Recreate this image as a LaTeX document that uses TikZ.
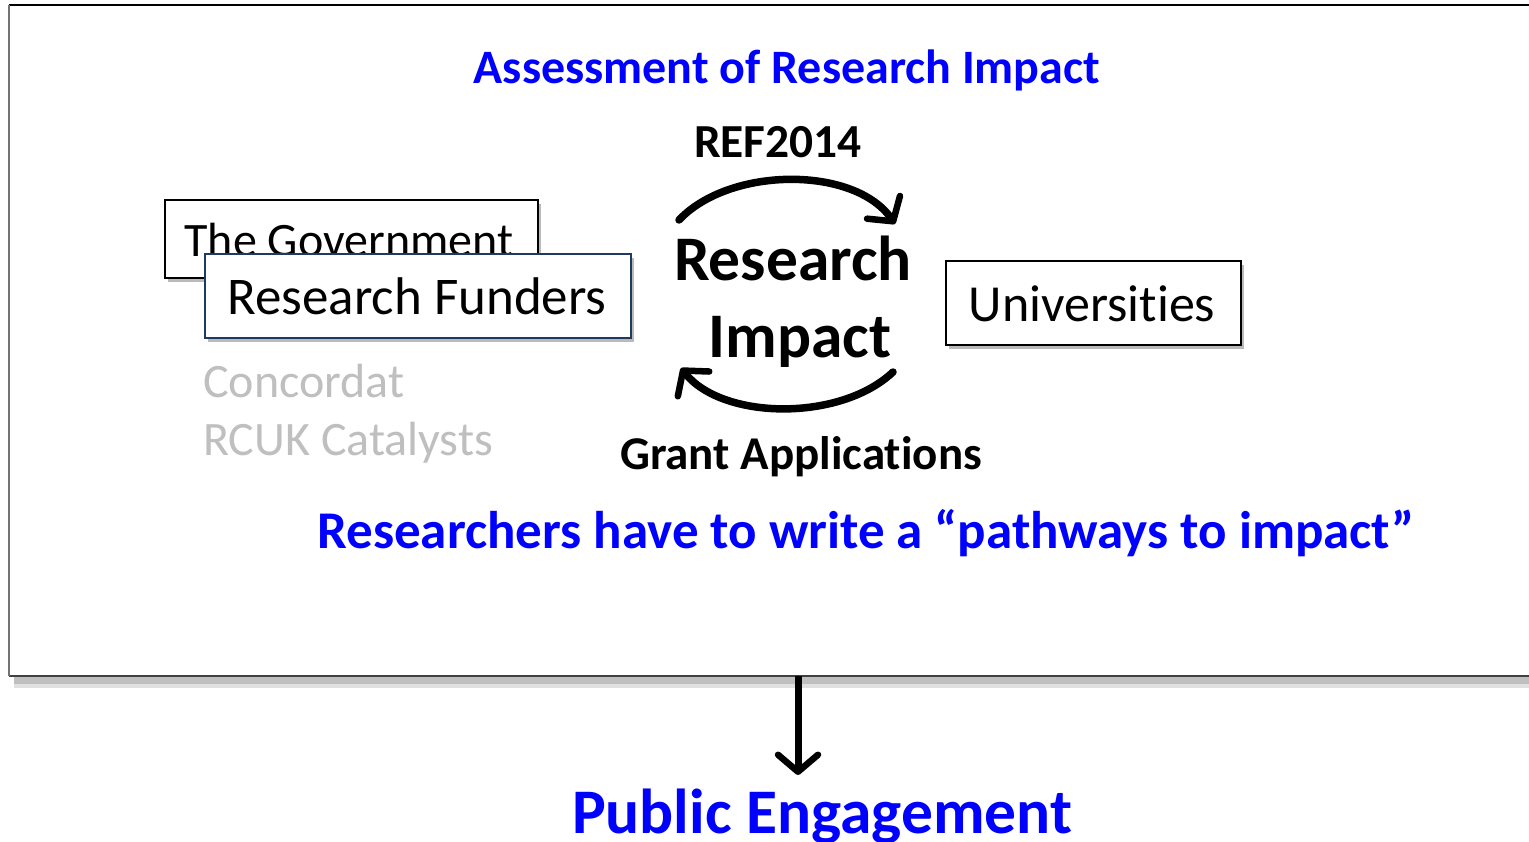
\documentclass[tikz,border=0pt]{standalone}
\usepackage{fontspec}
\setmainfont{Carlito}[Ligatures=CommonOff]
\usetikzlibrary{arrows.meta,shadows}
\definecolor{pblue}{RGB}{0,0,255}
\definecolor{lgrey}{RGB}{191,191,191}
\definecolor{navy}{RGB}{31,56,100}
\tikzset{
  lbl/.style={inner sep=0pt, anchor=base},
  boxed/.style={draw=black, line width=1.5pt, fill=white, inner sep=0pt,
    drop shadow={shadow xshift=3pt, shadow yshift=-4pt, opacity=0.45, fill=black!60}},
  arctip/.style={-{Straight Barb[length=17pt,width=40pt,line width=6.5pt, round]}},
  arc/.style={line width=7.5pt, line cap=round, arctip}
}
\begin{document}
\begin{tikzpicture}[x=1pt,y=-1pt]
\useasboundingbox (0,0) rectangle (1529,842);
\begin{scope}
\clip (0,0) rectangle (1529,842);
% main frame
\fill[black!25] (14,676) rectangle (1560,684);
\fill[black!12] (14,684) rectangle (1560,688);
\fill[white] (9,5) rectangle (1560,676);
\draw[black, line width=1.5pt] (9,5) -- (1560,5);
\draw[black!75, line width=1.5pt] (9,676) -- (1560,676);
\draw[black!55, line width=2pt] (9,5) -- (9,676);

% title texts
\node[lbl, text=pblue, font=\bfseries\fontsize{48}{48}\selectfont] (title) at (787,84) {Assessment of Research Impact};
\node[lbl, font=\bfseries\fontsize{47.4}{48}\selectfont] (ref) at (778,158) {REF2014};
\node[lbl, font=\bfseries\fontsize{63.5}{64}\selectfont] (res) at (793,281) {Research};
\node[lbl, font=\bfseries\fontsize{63.5}{64}\selectfont] (imp) at (800,357) {Impact};
\node[lbl, font=\bfseries\fontsize{47}{47}\selectfont] (grant) at (801,469) {Grant Applications};
\node[lbl, text=pblue, font=\bfseries\fontsize{53}{53}\selectfont] (pathw) at (866,548) {Researchers have to write a “pathways to impact”};

% cycle arrows
\coordinate (a1) at (679,220);
\coordinate (a2) at (895,224);
\coordinate (b1) at (893,372);
\coordinate (b2) at (681,368);
\draw[arc] (a1) .. controls (730,166) and (855,166) .. (a2);
\draw[arc] (b1) .. controls (840,422) and (722,420) .. (b2);

% boxes
\node[boxed, minimum width=373pt, minimum height=78pt] (gov) at (351.5,239) {};
\node[lbl, font=\fontsize{48}{48}\selectfont] (govt) at (349,257) {The Government};
\node[boxed, draw=navy, minimum width=426pt, minimum height=84pt] (fund) at (418,296) {};
\node[lbl, font=\fontsize{53}{53}\selectfont] (fundt) at (417,315) {Research Funders};
\node[boxed, minimum width=295pt, minimum height=84pt] (uni) at (1093.5,303) {};
\node[lbl, font=\fontsize{52}{52}\selectfont] (unit) at (1092,322) {Universities};

\node[inner sep=0pt, anchor=base west, text=lgrey, font=\fontsize{48}{48}\selectfont] (conc) at (203,397) {Concordat};
\node[inner sep=0pt, anchor=base west, text=lgrey, font=\fontsize{48}{48}\selectfont] (rcuk) at (203,455) {RCUK Catalysts};

% down arrow
\coordinate (d1) at (798,676);
\node[lbl, text=pblue, font=\bfseries\fontsize{63.5}{64}\selectfont] (pe) at (822,833) {Public Engagement};
\coordinate (d2) at (798,775);
\draw[line width=7pt, arctip] (d1) -- (d2);
\end{scope}
\end{tikzpicture}
\end{document}
